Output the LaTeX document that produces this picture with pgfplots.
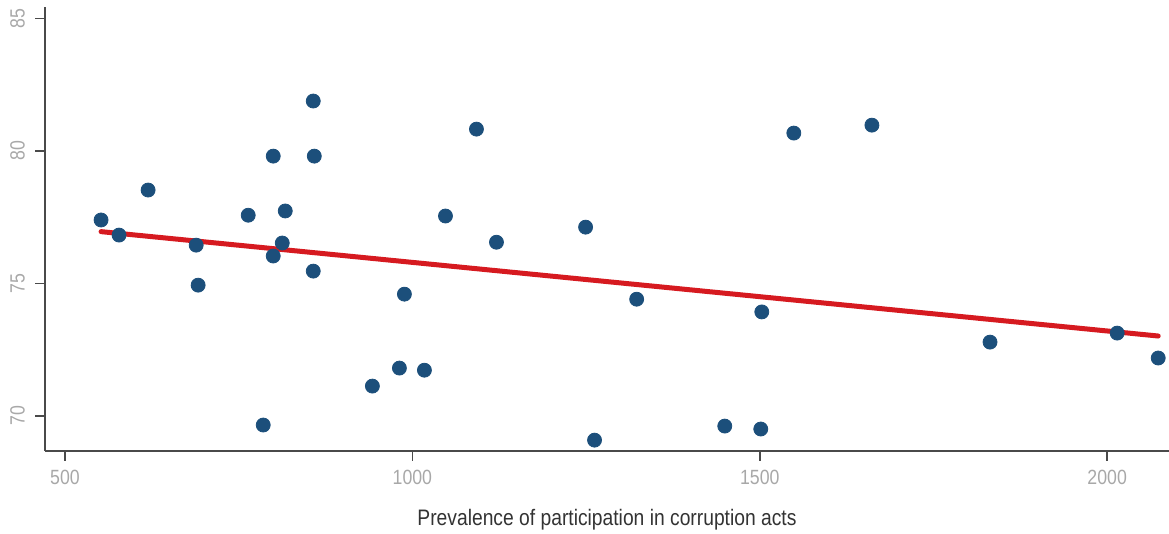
\documentclass[border=0pt]{standalone}
\usepackage{pgfplots}
\pgfplotsset{compat=1.18}
\usepackage{fontspec}
\setmainfont{Liberation Sans}[FakeStretch=0.86]
\definecolor{dotblue}{HTML}{1C4F7B}
\definecolor{fitred}{HTML}{D61A20}
\definecolor{axgray}{HTML}{4A4A4A}
\definecolor{tickgray}{HTML}{A8A8A8}
\definecolor{labgray}{HTML}{333333}
\pgfplotstableread{
x y
551.9 77.39
577.8 76.82
619.6 78.52
688.8 76.44
691.6 74.93
763.7 77.57
785.3 69.65
799.7 79.80
799.7 76.03
812.7 76.52
817.0 77.73
857.3 81.88
858.8 79.80
857.3 75.46
942.4 71.12
981.3 71.80
988.5 74.59
1017.3 71.72
1047.6 77.54
1092.2 80.82
1121.0 76.55
1249.3 77.12
1262.2 69.08
1322.8 74.40
1449.6 69.61
1501.4 69.50
1502.9 73.92
1549.0 80.67
1661.4 80.97
1831.4 72.78
2014.4 73.12
2073.5 72.18
}\pts
\begin{document}
\begin{tikzpicture}
\path[use as bounding box] (-22.5pt,-41.5pt) rectangle (562pt,225.5pt);
\begin{axis}[
  at={(0,0)}, anchor=south west,
  scale only axis, width=562pt, height=222pt,
  xmin=471.2, xmax=2089, ymin=68.67, ymax=85.43,
  axis x line*=bottom, axis y line*=left,
  axis line style={axgray, line width=0.75pt, -},
  xtick={500,1000,1500,2000}, ytick={70,75,80,85},
  tick style={axgray, line width=0.75pt},
  tick align=outside, major tick length=5pt,
  /pgf/number format/assume math mode=true,
  /pgf/number format/1000 sep={},
  ticklabel style={font=\fontsize{10.3}{11}\selectfont, text=tickgray},
  yticklabel style={rotate=90, anchor=south, yshift=1.5pt},
  xticklabel style={anchor=north, yshift=-1pt},
  xlabel={Prevalence of participation in corruption acts},
  xlabel style={font=\fontsize{11.2}{13}\selectfont, text=labgray, at={(axis description cs:0.5,0)}, anchor=center, yshift=-34.5pt},
  clip=false,
]
\addplot[only marks, mark=*, mark size=3.5pt, mark options={fill=dotblue, draw=dotblue}] table[x=x,y=y] {\pts};
\addplot[fitred, line width=2.5pt, line cap=round] coordinates {(551.9,76.95) (2073.5,73.01)};
\end{axis}
\end{tikzpicture}
\end{document}
